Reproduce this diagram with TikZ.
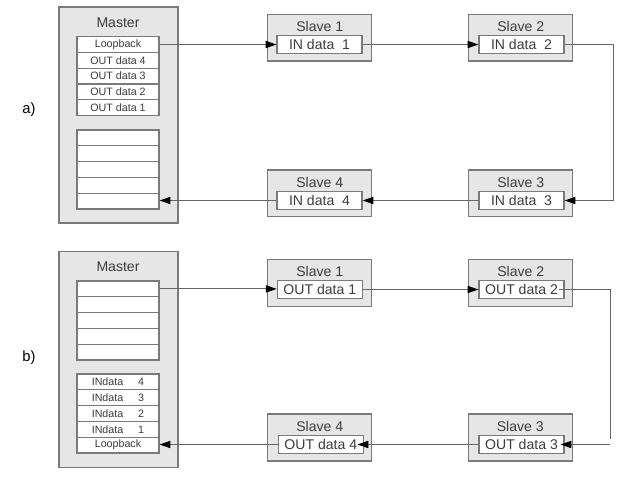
\documentclass[tikz,border=0pt]{standalone}
\usepackage{fontspec}
\setmainfont{Liberation Sans}
\usetikzlibrary{arrows.meta}
\definecolor{boxgray}{HTML}{E6E6E6}
\definecolor{edgegray}{HTML}{7A7A7A}
\definecolor{txtgray}{HTML}{3C3C3C}
\definecolor{wiregray}{HTML}{666666}

\begin{document}
\begin{tikzpicture}[x=0.025cm,y=-0.025cm,
  outer/.style={draw=edgegray,fill=boxgray,line width=0.9pt,inner sep=0pt},
  master/.style={outer,minimum width=2.975cm,minimum height=5.4cm},
  slave/.style={outer,minimum width=2.6cm,minimum height=1.17cm},
  title/.style={font=\fontsize{10}{12}\selectfont,text=txtgray},
  cell/.style={draw=edgegray,fill=white,line width=0.8pt,minimum width=2.05cm,minimum height=0.395cm,inner sep=0pt,font=\fontsize{7.6}{9}\selectfont,text=txtgray},
  inbox/.style={draw=edgegray,fill=white,line width=0.8pt,minimum width=2.125cm,minimum height=0.44cm,inner sep=0pt,font=\fontsize{10}{12}\selectfont,text=txtgray},
  wire/.style={color=wiregray,line width=0.7pt},
  conn/.style={wire,-{Triangle[length=0.27cm,width=0.18cm,black]}}]
\useasboundingbox (0,0) rectangle (624,480);

\node at (29,110) {\fontsize{10.5}{12}\selectfont a)};
\node at (29,358) {\fontsize{10.5}{12}\selectfont b)};

\node [master] (ma) at (118.5,115) {};
\node [title] at (118,23) {Master};
\foreach \t [count=\i] in {Loopback,OUT data 4,OUT data 3,OUT data 2,OUT data 1}
  \node [cell] (ua\i) at (118,{36.6+15.8*(\i-0.5)}) {\t};
\foreach \i in {1,...,5}
  \node [cell] (la\i) at (118,{130+15.8*(\i-0.5)}) {};

\node [slave] (s1a) at (319.7,37.7) {};
\node [slave] (s2a) at (520.8,37.7) {};
\node [slave] (s3a) at (520.8,193.3) {};
\node [slave] (s4a) at (319.7,193.3) {};
\node [title] at (319.7,26) {Slave 1};
\node [title] at (520.8,26) {Slave 2};
\node [title] at (520.8,182.5) {Slave 3};
\node [title] at (319.7,182.5) {Slave 4};
\node [inbox] (ia1) at (319.5,44.5) {IN data\ \ 1};
\node [inbox] (ia2) at (521.5,44.5) {IN data\ \ 2};
\node [inbox] (ia3) at (521.5,200.5) {IN data\ \ 3};
\node [inbox] (ia4) at (319.5,200.5) {IN data\ \ 4};

\coordinate (ra) at (613,44.5);
\draw [conn] (ua1.east) -- (ua1.east -| ia1.west);
\draw [conn] (ia1.east) -- (ia2.west);
\draw [conn] (ia2.east) -- (ra) |- (ia3.east);
\draw [conn] (ia3.west) -- (ia4.east);
\draw [conn] (ia4.west) -- (ia4.west -| la5.east);

\node [master] (mb) at (118.5,359.5) {};
\node [title] at (118,266.7) {Master};
\foreach \i in {1,...,5}
  \node [cell] (ub\i) at (118,{281+15.8*(\i-0.5)}) {};
\foreach \t [count=\i] in {4,3,2,1}
  \node [cell] (lb\i) at (118,{374+15.8*(\i-0.5)}) {INdata\hspace{1.4em}\t};
\node [cell] (lb5) at (118,{374+15.8*4.5}) {Loopback};

\node [slave] (s1b) at (319.7,283) {};
\node [slave] (s2b) at (520.8,283) {};
\node [slave] (s3b) at (520.3,437.5) {};
\node [slave] (s4b) at (319.7,437.5) {};
\node [title] at (319.7,271.7) {Slave 1};
\node [title] at (520.8,271.7) {Slave 2};
\node [title] at (520.3,426) {Slave 3};
\node [title] at (319.7,426) {Slave 4};
\node [inbox] (ob1) at (319.8,289.5) {OUT data 1};
\node [inbox] (ob2) at (521.5,289.5) {OUT data 2};
\node [inbox] (ob3) at (521.5,444.5) {OUT data 3};
\node [inbox] (ob4) at (320.8,444.5) {OUT data 4};

\coordinate (rb1) at (610,289.5);
\coordinate (rb2) at (610,439);
\coordinate (rb3) at (610,444.5);
\draw [conn] (ub1.east) -- (ub1.east -| ob1.west);
\draw [conn] (ob1.east) -- (ob2.west);
\draw [wire] ([xshift=-0.15cm]ob2.east) -- (rb1) -- (rb2);
\draw [conn] (rb3) -- ([xshift=-0.1cm]ob3.east);
\draw [conn] (ob3.west) -- ([xshift=-0.16cm]ob4.east);
\draw [conn] (ob4.west) -- (ob4.west -| lb5.east);
\end{tikzpicture}
\end{document}
